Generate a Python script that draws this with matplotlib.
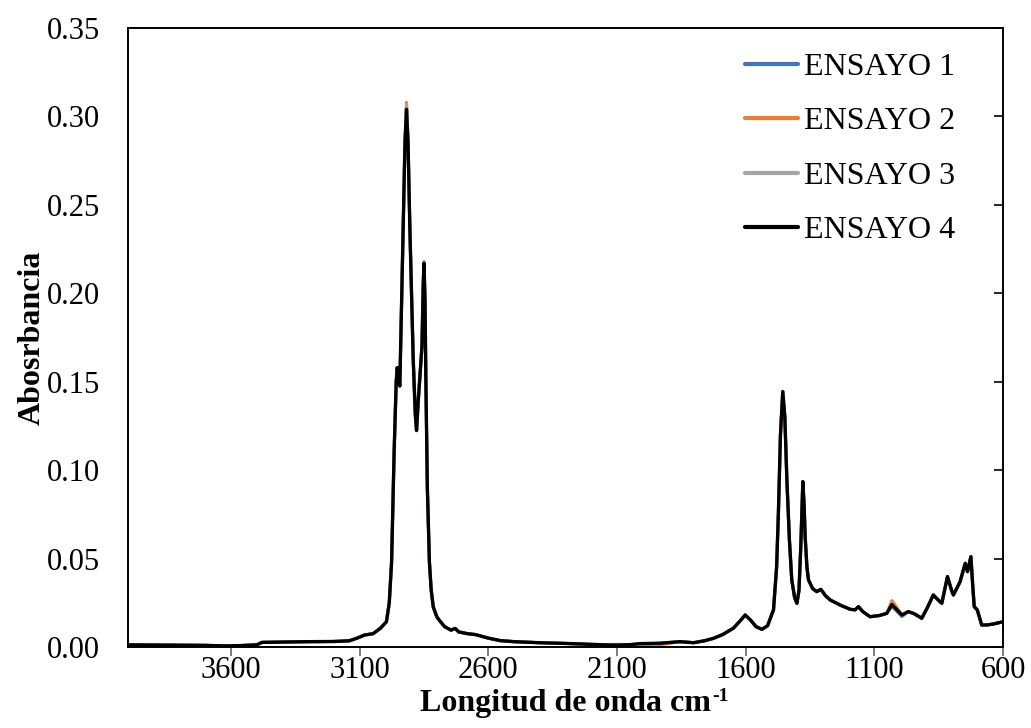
import matplotlib
matplotlib.use('Agg')
import matplotlib.pyplot as plt

plt.rcParams['font.family'] = ['Liberation Serif', 'DejaVu Serif']

# numero de onda (cm-1)
onda = [4000, 3900, 3800, 3700, 3620, 3560, 3500, 3480, 3400, 3300, 3200, 3140,
        3110, 3080, 3048, 3020, 2996, 2985, 2976, 2966, 2958, 2954, 2948, 2944,
        2938, 2931, 2924, 2918, 2912, 2905, 2892, 2884, 2879, 2872, 2866, 2858,
        2853, 2850, 2846, 2843, 2837, 2829, 2822, 2814, 2800, 2790, 2770, 2745,
        2729, 2715, 2680, 2650, 2600, 2554, 2500, 2400, 2300, 2200, 2150, 2100,
        2050, 2010, 1933, 1855, 1803, 1760, 1725, 1690, 1648, 1620, 1602, 1580,
        1560, 1537, 1515, 1492, 1480, 1473, 1465, 1456, 1448, 1440, 1430, 1421,
        1410, 1401, 1393, 1386, 1378, 1373, 1369, 1362, 1356, 1340, 1324, 1308,
        1290, 1272, 1230, 1194, 1175, 1162, 1145, 1117, 1080, 1052, 1032, 1012,
        993, 968, 945, 916, 895, 871, 855, 838, 816, 800, 793, 767,
        747, 738, 725, 718, 712, 700, 683, 660, 637, 600]

ensayo_4 = [0.0012, 0.0011, 0.0010, 0.0009, 0.0006, 0.0008, 0.0012, 0.0026, 0.0028, 0.0030, 0.0031, 0.0035,
            0.0050, 0.0068, 0.0075, 0.0105, 0.0143, 0.025, 0.048, 0.111, 0.150, 0.158, 0.150, 0.1476,
            0.190, 0.237, 0.285, 0.304, 0.285, 0.237, 0.163, 0.132, 0.1224, 0.140, 0.1527, 0.170,
            0.205, 0.217, 0.195, 0.153, 0.090, 0.048, 0.032, 0.0226, 0.017, 0.015, 0.0115, 0.0095,
            0.0105, 0.0085, 0.0075, 0.0070, 0.0050, 0.0036, 0.0030, 0.0024, 0.0020, 0.0015, 0.0012, 0.0011,
            0.0013, 0.0019, 0.0021, 0.0030, 0.0024, 0.0035, 0.0049, 0.0070, 0.0106, 0.015, 0.0181, 0.015,
            0.0115, 0.0100, 0.012, 0.021, 0.045, 0.0756, 0.120, 0.1444, 0.130, 0.0944, 0.060, 0.0379,
            0.028, 0.0247, 0.032, 0.0567, 0.0935, 0.080, 0.0624, 0.045, 0.0379, 0.033, 0.0313, 0.0326,
            0.029, 0.0266, 0.0235, 0.0213, 0.021, 0.0228, 0.020, 0.0171, 0.0178, 0.019, 0.0240, 0.021,
            0.0181, 0.020, 0.0188, 0.0162, 0.022, 0.0294, 0.027, 0.0247, 0.0398, 0.032, 0.0294, 0.0369,
            0.0473, 0.0426, 0.0511, 0.035, 0.0228, 0.0209, 0.0124, 0.0125, 0.0130, 0.0143]

# diferencias pequeñas de los otros ensayos
ajuste_1 = {2918: 0.305, 1032: 0.0230, 1012: 0.0200, 993: 0.0172, 2010: 0.0015}
ajuste_2 = {2918: 0.308, 2850: 0.218, 1032: 0.0262, 1012: 0.0222, 2010: 0.0006, 1933: 0.0012}
ajuste_3 = {2918: 0.307, 2850: 0.218, 1032: 0.0245, 2100: 0.0015}

ensayo_1 = [ajuste_1.get(w, v) for w, v in zip(onda, ensayo_4)]
ensayo_2 = [ajuste_2.get(w, v) for w, v in zip(onda, ensayo_4)]
ensayo_3 = [ajuste_3.get(w, v) for w, v in zip(onda, ensayo_4)]

series = [('ENSAYO 1', ensayo_1, '#4472C4', 2.2),
          ('ENSAYO 2', ensayo_2, '#ED7D31', 2.2),
          ('ENSAYO 3', ensayo_3, '#A5A5A5', 2.2),
          ('ENSAYO 4', ensayo_4, '#000000', 2.4)]

fig = plt.figure(figsize=(10.31, 7.28), dpi=100)
ax = fig.add_axes([0.1242, 0.1113, 0.8487, 0.8502])

for nombre, valores, color, ancho in series:
    ax.plot(onda, valores, color=color, lw=ancho, label=nombre,
            solid_joinstyle='round', solid_capstyle='round')

ax.set_xlim(4000, 600)
ax.set_ylim(0, 0.35)
ax.set_xticks([3600, 3100, 2600, 2100, 1600, 1100, 600])
ax.set_yticks([0.0, 0.05, 0.10, 0.15, 0.20, 0.25, 0.30, 0.35])
ax.set_yticklabels(['%.2f' % t for t in ax.get_yticks()])

for s in ax.spines.values():
    s.set_linewidth(1.4)
    s.set_color('black')

ax.tick_params(axis='x', direction='out', length=6.5, width=1.4, color='#7f7f7f',
               labelsize=22, pad=0)
ax.tick_params(axis='y', left=False, right=True, direction='in', length=6.5,
               width=1.2, labelsize=22, pad=20)

ax.set_xlabel('Longitud de onda cm', fontsize=23, fontweight='bold', labelpad=3)
ax.set_ylabel('Abosrbancia', fontsize=23, fontweight='bold', labelpad=0)

leg = ax.legend(loc='upper right', frameon=False, fontsize=23,
                handlelength=1.66, handletextpad=0.19, labelspacing=0.78,
                borderpad=0, borderaxespad=0,
                bbox_to_anchor=(0.945, 0.96))
for linea in leg.get_lines():
    linea.set_linewidth(3)

# superindice -1 del titulo del eje x
fig.canvas.draw()
caja = ax.xaxis.label.get_window_extent(fig.canvas.get_renderer())
caja = caja.transformed(fig.transFigure.inverted())
fig.text(caja.x1 + 0.001, caja.y1 + 0.002, '-1', fontsize=14, fontweight='bold',
         ha='left', va='top')

fig.savefig('out.png', dpi=100)
